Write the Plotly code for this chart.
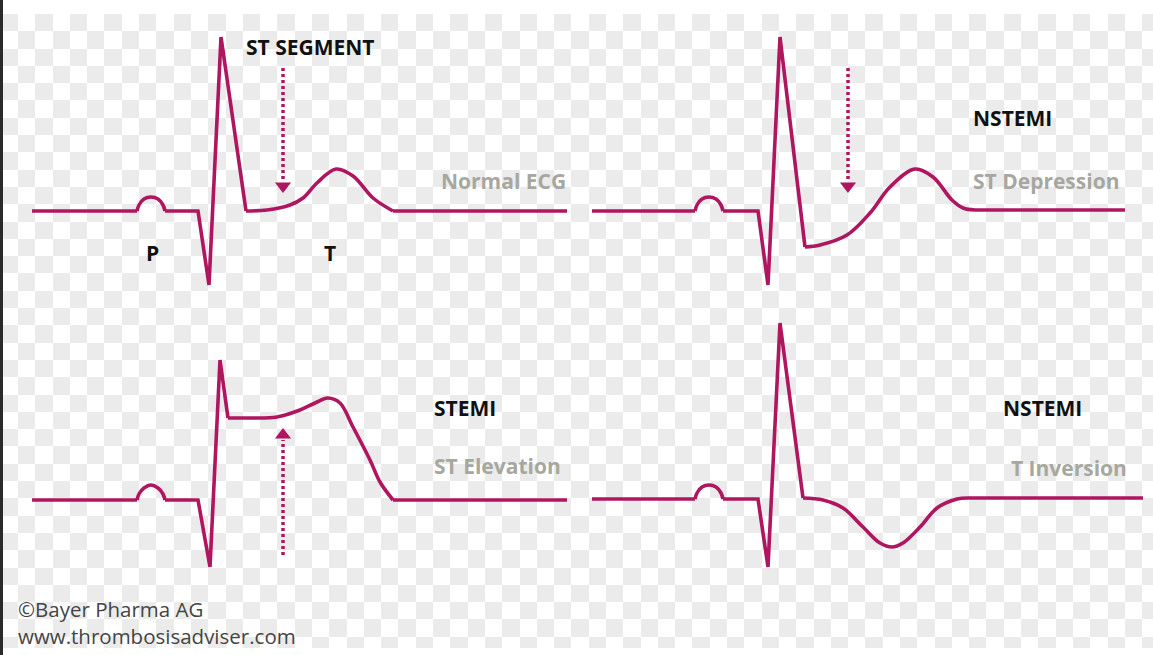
import numpy as np
import plotly.graph_objects as go

# canvas coordinates (px), y grows downward
W, H = 1153, 655
ECG_COLOR = '#b0165f'
GREY_TXT = '#a7a79f'

# --- Normal ECG (top left)
normal_line_x = [32, 137, None, 165, 198, 209, 221, 246, None, 393, 567]
normal_line_y = [211, 211, None, 211, 211, 285, 37, 211, None, 211, 211]
normal_curve_x = [137, 139, 144, 151, 158, 163, 165, None, 246, 267, 290, 303, 317, 336, 353, 373, 393]
normal_curve_y = [211, 205, 199, 197, 199, 205, 211, None, 211, 210, 205, 198, 183, 169, 176, 198, 211]

# --- ST depression (top right)
depr_line_x = [592, 695, None, 723, 758, 768, 780, 805, None, 975, 1125]
depr_line_y = [211, 211, None, 211, 211, 285, 37, 247, None, 210, 210]
depr_curve_x = [695, 697, 702, 709, 716, 721, 723, None, 805, 820, 847, 870, 890, 915, 933, 952, 963, 975]
depr_curve_y = [211, 205, 199, 197, 199, 205, 211, None, 247, 245, 235, 213, 187, 169, 177, 200, 208, 210]

# --- ST elevation (bottom left)
elev_line_x = [32, 137, None, 165, 198, 210, 220, 228, None, 393, 567]
elev_line_y = [500, 500, None, 500, 500, 567, 360, 418, None, 500, 500]
elev_curve_x = [137, 139, 144, 151, 158, 163, 165, None, 228, 250, 277, 300, 315, 328, 340, 353, 370, 380, 393]
elev_curve_y = [500, 494, 488, 485, 488, 494, 500, None, 418, 418, 417, 410, 403, 398, 403, 427, 460, 482, 500]

# --- T inversion (bottom right)
tinv_line_x = [592, 695, None, 723, 758, 768, 780, 803, None, 970, 1143]
tinv_line_y = [499, 499, None, 499, 499, 567, 323, 498, None, 498, 498]
tinv_curve_x = [695, 697, 702, 709, 716, 721, 723, None, 803, 823, 843, 863, 880, 892, 903, 920, 937, 957, 970]
tinv_curve_y = [499, 493, 487, 485, 487, 493, 499, None, 498, 500, 508, 527, 543, 547, 543, 527, 508, 499, 498]

# dotted arrows
arrow_x = [283, 848, 283]
arrow_tail_y = [68, 68, 555]
arrow_tip_y = [193, 193, 428]

# labels
label_text = ['ST SEGMENT', 'P', 'T', 'Normal ECG', 'NSTEMI', 'ST Depression',
              'STEMI', 'ST Elevation', 'NSTEMI', 'T Inversion']
label_x = [244, 144, 322, 439, 971, 971, 432, 432, 1001, 1009]
label_y = [47, 253, 253, 181, 118, 181, 408, 466, 408, 468]
label_grey = [False, False, False, True, False, True, False, True, False, True]

credit_lines = ['©Bayer Pharma AG', 'www.thrombosisadviser.com']

fig = go.Figure()

# checkerboard backdrop
cell = 17.3
ncol = int(W / cell) + 2
nrow = int((648 - 14) / cell) + 1
z = np.fromfunction(lambda i, j: (i + j + 1) % 2, (nrow, ncol))
fig.add_trace(go.Heatmap(
    z=z, x0=18 - cell + cell / 2, dx=cell, y0=14 + cell / 2, dy=cell,
    colorscale=[[0, '#ffffff'], [1, '#ebebeb']], showscale=False,
    hoverinfo='skip', zsmooth=False
))
# crop checkerboard bottom
fig.add_shape(type='rect', x0=0, x1=W, y0=648, y1=H, fillcolor='white', line_width=0, layer='above')

for lx, ly, cx, cy in [(normal_line_x, normal_line_y, normal_curve_x, normal_curve_y),
                       (depr_line_x, depr_line_y, depr_curve_x, depr_curve_y),
                       (elev_line_x, elev_line_y, elev_curve_x, elev_curve_y),
                       (tinv_line_x, tinv_line_y, tinv_curve_x, tinv_curve_y)]:
    fig.add_trace(go.Scatter(x=lx, y=ly, mode='lines', hoverinfo='skip',
                             line=dict(color=ECG_COLOR, width=3.6)))
    fig.add_trace(go.Scatter(x=cx, y=cy, mode='lines', hoverinfo='skip',
                             line=dict(color=ECG_COLOR, width=3.6, shape='spline', smoothing=1)))

for ax, ty, hy in zip(arrow_x, arrow_tail_y, arrow_tip_y):
    d = 1 if hy > ty else -1
    fig.add_trace(go.Scatter(x=[ax, ax], y=[ty, hy - d * 12], mode='lines', hoverinfo='skip',
                             line=dict(color=ECG_COLOR, width=3.5, dash='3px,3px')))
    fig.add_trace(go.Scatter(x=[ax], y=[hy - d * 7], mode='markers', hoverinfo='skip',
                             marker=dict(symbol='triangle-down' if d > 0 else 'triangle-up',
                                         size=14, color=ECG_COLOR, line_width=0)))

for t, x, y, g in zip(label_text, label_x, label_y, label_grey):
    fig.add_annotation(x=x, y=y, text='<b>' + t + '</b>', showarrow=False,
                       xanchor='left', yanchor='middle',
                       font=dict(family='Open Sans', size=21, color=GREY_TXT if g else '#111111'))

# two-line credit in one text block
fig.add_annotation(x=16, y=622, text='<br>'.join(credit_lines), showarrow=False,
                   xanchor='left', yanchor='middle', align='left',
                   font=dict(family='Open Sans', size=20.5, color='#444444'))

# dark frame edge on the left
fig.add_shape(type='rect', x0=0, x1=3, y0=0, y1=H, fillcolor='#2a2a2a', line_width=0, layer='above')

fig.update_layout(
    width=W, height=H,
    margin=dict(l=0, r=0, t=0, b=0),
    paper_bgcolor='white', plot_bgcolor='white',
    showlegend=False,
    xaxis=dict(range=[0, W], visible=False, fixedrange=True),
    yaxis=dict(range=[H, 0], visible=False, fixedrange=True),
)

fig.write_html("out.html", config={'displayModeBar': False},
               post_script="document.body.style.margin='0';document.body.style.overflow='hidden';")
